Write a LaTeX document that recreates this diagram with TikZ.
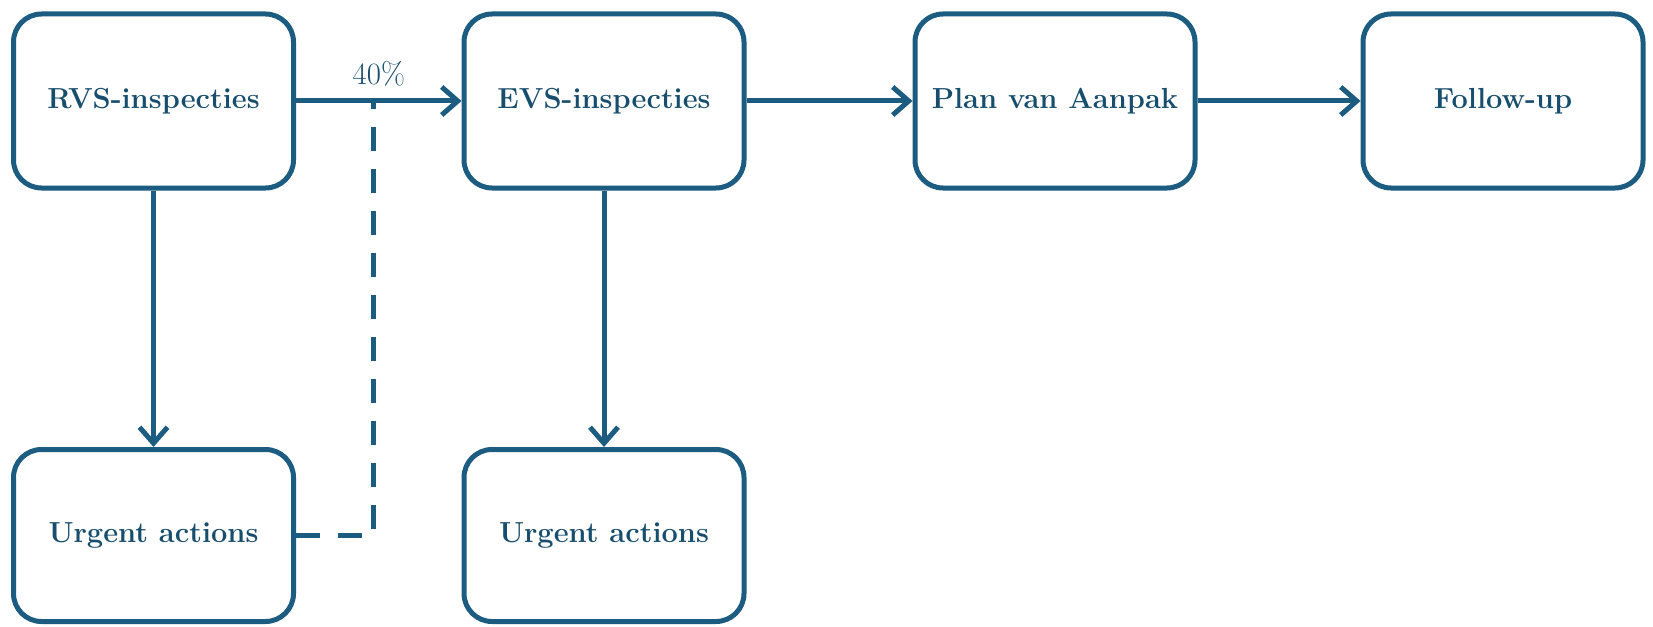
\documentclass[tikz,border=0pt]{standalone}
\usepackage{tikz}
\usetikzlibrary{arrows.meta}
\usepackage{xcolor}
\definecolor{flowblue}{RGB}{28,92,128}

\begin{document}
\begin{tikzpicture}[x=0.5pt, y=0.5pt,
    box/.style={draw=flowblue, line width=2.5pt, rounded corners=14pt,
        minimum width=140pt, minimum height=87pt, inner sep=0pt,
        text=flowblue!85!black, font=\fontsize{14.5}{17}\selectfont\bfseries},
    arr/.style={flowblue, line width=2.5pt, -{Straight Barb[length=8pt, width=14pt]}},
    dashline/.style={flowblue, line width=2.5pt, dash pattern=on 12pt off 9pt}]

    % Frame
    \useasboundingbox (0,0) rectangle (1653,-626);

    % Top row
    \node[box] (rvs)  at (153.5,-101) {RVS-inspecties};
    \node[box] (evs)  at (604,-101)   {EVS-inspecties};
    \node[box] (plan) at (1055,-101)  {Plan van Aanpak};
    \node[box] (fup)  at (1503,-101)  {Follow-up};

    % Bottom row
    \node[box, minimum height=86pt] (urgA) at (153.5,-535.5) {Urgent actions};
    \node[box, minimum height=86pt] (urgB) at (604,-535.5)   {Urgent actions};

    % Arrows
    \draw[arr] (rvs) -- coordinate[pos=0.47] (split)
        node[pos=0.5, above=3pt, font=\fontsize{15.5}{18}\selectfont, text=flowblue!85!black] (pct) {40\%} (evs);
    \foreach \a/\b in {evs/plan, plan/fup} {
        \draw[arr] (\a) -- (\b);
    }
    \foreach \a/\b in {rvs/urgA, evs/urgB} {
        \draw[arr] (\a) -- (\b);
    }

    % Dashed return
    \draw[dashline] (urgA.east) -| (split);

\end{tikzpicture}
\end{document}
